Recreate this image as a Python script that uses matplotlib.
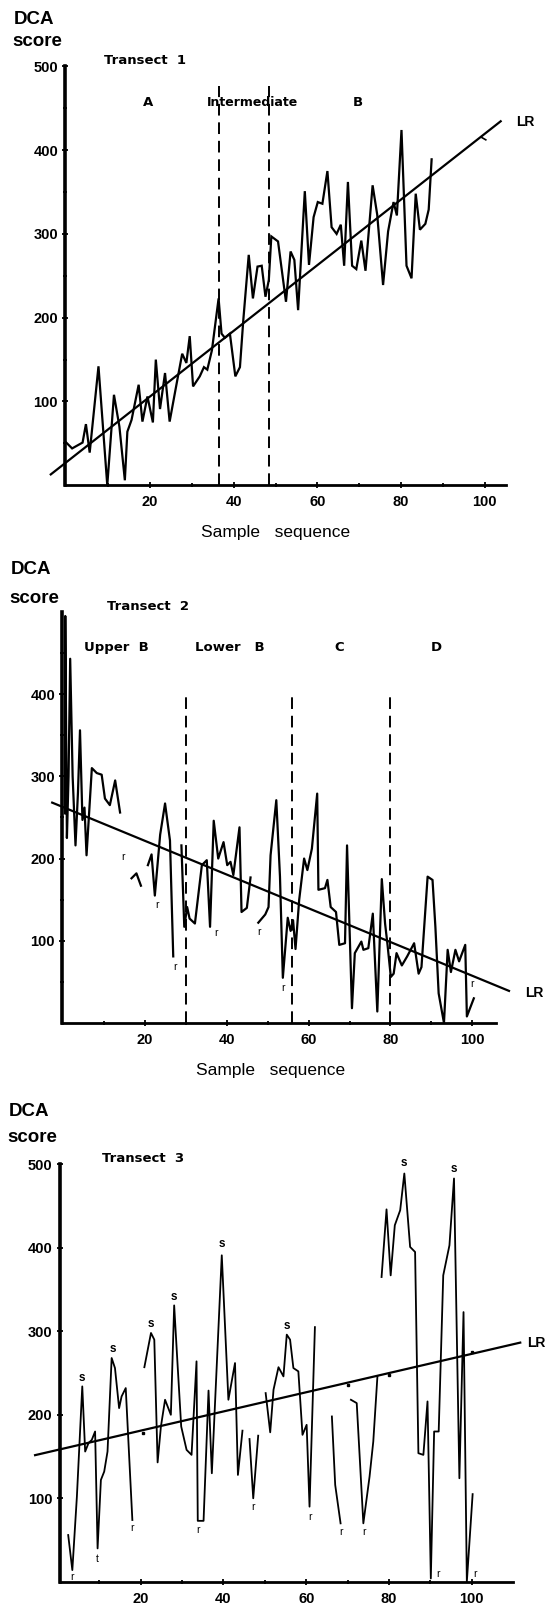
import matplotlib
matplotlib.use("Agg")
import matplotlib.pyplot as plt
from matplotlib.ticker import FixedLocator

plt.rcParams['font.family'] = ['Liberation Sans', 'DejaVu Sans']

# ---------------- data ----------------
# Transect 1
t1_x = [0, 1.4, 3.9, 4.7, 5.6, 7.7, 9.8, 11.4, 12.7, 14.0, 14.6, 15.6, 17.3, 18.2, 19.4,
        20.7, 21.4, 22.4, 23.6, 24.7, 26.1, 27.7, 28.7, 29.5, 30.3, 31.9, 32.9, 33.7, 34.8,
        36.4, 37.1, 37.9, 39.1, 40.4, 41.5, 42.3, 43.6, 44.6, 45.7, 46.7, 47.6, 48.4, 49.0,
        50.6, 52.5, 53.6, 54.5, 55.4, 57.0, 58.0, 59.1, 60.1, 61.2, 62.4, 63.4, 64.6, 65.6,
        66.4, 67.3, 68.3, 69.3, 70.5, 71.5, 73.2, 74.3, 75.7, 76.9, 78.2, 79.0, 80.1, 81.3,
        82.5, 83.5, 84.5, 85.8, 86.6, 87.3]
t1_y = [51, 44, 51, 73, 39, 142, 0, 108, 70, 6, 64, 78, 120, 76, 106,
        75, 150, 91, 134, 76, 114, 157, 146, 178, 118, 130, 141, 138, 161,
        223, 181, 176, 181, 130, 141, 197, 275, 223, 261, 262, 225, 245, 297,
        291, 219, 279, 269, 209, 351, 263, 320, 338, 336, 375, 308, 300, 311,
        262, 362, 262, 258, 292, 256, 358, 323, 239, 303, 338, 322, 424, 262,
        247, 348, 305, 312, 329, 389]
t1_lr = (27.5, 3.92)          # intercept, slope
t1_bounds = [36.5, 48.5]
t1_zones = ["A", "Intermediate", "B"]

# Transect 2 (broken line segments)
t2_segments = [
    ([0.4, 0.5, 0.9, 1.3, 1.7, 2.3, 3.0, 3.6, 4.1, 4.7, 5.2, 5.7, 7.0, 8.2, 9.4, 10.2, 11.4, 12.7, 13.9],
     [255, 495, 225, 300, 443, 300, 216, 280, 356, 247, 262, 204, 310, 304, 302, 273, 265, 295, 256]),
    ([16.7, 17.9, 19.0],
     [176, 182, 167]),
    ([20.7, 21.6, 22.4, 23.7, 24.9, 26.1, 26.9],
     [192, 205, 155, 229, 267, 222, 81]),
    ([28.9, 29.6, 30.3, 30.9, 32.2, 33.9, 35.1, 35.9, 36.8, 37.9, 39.2, 40.1, 40.9, 41.6, 43.1, 43.6, 44.9, 45.8],
     [216, 117, 141, 127, 121, 192, 198, 117, 246, 200, 220, 192, 196, 180, 238, 135, 140, 177]),
    ([47.7, 49.4, 50.2, 50.7, 52.1, 53.0, 53.7, 54.9, 55.6, 56.2, 56.8, 57.7, 58.9, 59.7, 60.8, 62.1,
      62.4, 64.0, 64.6, 65.4, 66.7, 67.5, 68.9, 69.4, 70.6, 71.3, 72.9, 73.4, 74.6, 75.7, 76.8, 77.9,
      78.7, 79.3, 80.1, 80.8, 81.5, 82.8, 84.1, 85.8, 86.9, 87.6, 89.1, 90.3, 91.0, 91.8, 93.1, 94.0,
      94.8, 95.9, 96.8, 98.3, 98.7, 100.4],
     [122, 132, 141, 204, 271, 178, 55, 128, 112, 125, 90, 150, 200, 186, 212, 279,
      162, 164, 174, 141, 135, 95, 97, 216, 18, 85, 99, 89, 91, 133, 14, 175,
      121, 95, 56, 60, 85, 70, 81, 97, 60, 68, 178, 174, 117, 36, 0, 89,
      62, 89, 75, 95, 8, 30]),
]
t2_lr = (262.5, -2.05)
t2_bounds = [30, 56, 80]
t2_zones = ["Upper  B", "Lower   B", "C", "D"]
t2_r_x = [14.7, 22.9, 27.3, 37.3, 47.9, 53.7, 100.0]
t2_r_y = [202, 143, 68, 110, 111, 42, 47]

# Transect 3 (broken line segments)
t3_segments = [
    ([2.5, 3.5, 4.6, 5.9, 6.6, 7.4, 8.2, 9.0, 9.6, 10.4, 11.2, 12.0, 13.0, 13.8, 14.8, 15.4, 16.4, 18.0],
     [56, 14, 102, 234, 156, 166, 170, 180, 40, 122, 132, 156, 268, 256, 208, 222, 232, 74]),
    ([20.9, 22.5, 23.3, 24.1, 24.9, 25.9, 27.3, 28.1, 28.9, 29.8, 31.1, 32.3, 33.5, 33.8, 35.2, 36.4,
      37.2, 39.6, 41.2, 42.8, 43.5, 44.6],
     [257, 298, 290, 143, 186, 218, 200, 331, 262, 186, 158, 152, 264, 73, 73, 229,
      130, 391, 218, 262, 128, 181]),
    ([46.3, 47.2, 48.4],
     [171, 100, 175]),
    ([50.2, 51.3, 52.1, 53.3, 54.5, 55.3, 56.1, 56.9, 58.1, 59.1, 60.1, 60.8, 62.1],
     [226, 179, 230, 257, 246, 296, 290, 256, 252, 176, 188, 90, 305]),
    ([66.2, 67.0, 68.3],
     [198, 116, 70]),
    ([70.8, 72.2, 73.8, 75.3, 76.2, 77.2],
     [218, 214, 70, 126, 168, 246]),
    ([78.2, 79.4, 80.4, 81.4, 82.7, 83.7, 85.1, 86.3, 87.1, 88.3, 89.3, 90.1, 90.9, 92.0, 93.1, 94.6,
      95.7, 97.0, 98.0, 98.8, 100.2],
     [365, 446, 367, 427, 445, 489, 401, 395, 154, 152, 216, 4, 180, 180, 367, 403,
      483, 124, 323, 0, 105]),
]
t3_single_x = [20.5, 70.0, 80.0, 100.0]
t3_single_y = [178, 236, 248, 275]
t3_lr = (158, 1.15)
t3_lab_text = ["r", "s", "t", "s", "r", "s", "s", "r", "s", "r", "s", "r", "r", "r", "s", "s", "r", "r"]
t3_lab_x = [3.5, 5.9, 9.6, 13.2, 18.0, 22.5, 28.1, 33.8, 39.6, 47.1, 55.3, 60.8, 68.3, 73.9, 83.7, 95.7, 91.9, 100.8]
t3_lab_y = [6, 244, 27, 279, 64, 309, 341, 62, 404, 90, 306, 78, 60, 60, 502, 494, 9, 9]

# ---------------- figure ----------------
W, H = 551, 1603
fig = plt.figure(figsize=(W / 100, H / 100), dpi=100)


def px_axes(x0, x1, ytop, ybot):
    return fig.add_axes([x0 / W, 1 - ybot / H, (x1 - x0) / W, (ybot - ytop) / H])


def style(ax, xlim, xend, ymaj, ymin_ticks, xmaj, xmin_ticks, ytop=500):
    ax.set_xlim(*xlim)
    ax.set_ylim(0, 500)
    for s in ["top", "right"]:
        ax.spines[s].set_visible(False)
    ax.spines["left"].set_linewidth(2.6)
    ax.spines["bottom"].set_linewidth(2.0)
    ax.spines["left"].set_bounds(0, ytop)
    ax.spines["bottom"].set_bounds(xlim[0], xend)
    ax.yaxis.set_major_locator(FixedLocator(ymaj))
    ax.yaxis.set_minor_locator(FixedLocator(ymin_ticks))
    ax.xaxis.set_major_locator(FixedLocator(xmaj))
    ax.xaxis.set_minor_locator(FixedLocator(xmin_ticks))
    ax.tick_params(which="both", direction="inout", width=1.3, colors="black")
    ax.tick_params(which="major", length=4)
    ax.tick_params(which="minor", length=3)
    ax.tick_params(axis="y", pad=3)
    ax.tick_params(axis="x", pad=5)
    for lab in ax.get_xticklabels() + ax.get_yticklabels():
        lab.set_fontsize(10.5)
        lab.set_fontweight("bold")
    ax.patch.set_alpha(0)


def fig_text(x, y, s, size, weight="bold", ha="center", family=None):
    kw = {}
    if family:
        kw["family"] = family
    fig.text(x / W, 1 - y / H, s, fontsize=size, fontweight=weight, ha=ha, va="center", **kw)


LAB_FAM = ["DejaVu Sans"]

# ---- Panel 1 ----
ax1 = px_axes(65.0, 505.7, 66.3, 485.3)
style(ax1, (-0.3, 105), 105, [100, 200, 300, 400, 500], [50, 150, 250, 350, 450],
      [20, 40, 60, 80, 100], [10, 30, 50, 70, 90])
ax1.plot(t1_x, t1_y, color="black", lw=1.6, clip_on=False, solid_joinstyle="miter")
lx = [-3.7, 103.8]
ax1.plot(lx, [t1_lr[0] + t1_lr[1] * v for v in lx], color="black", lw=1.6, clip_on=False)
for b in t1_bounds:
    ax1.plot([b, b], [0, 476], color="black", lw=1.4, dashes=(6, 3.5), clip_on=False)
ax1.plot([99.6], [414], marker=(2, 0, 60), ms=5, color="black", mew=1.2, clip_on=False)
ax1.text(107.5, 434, "LR", fontsize=10, fontweight="bold", ha="left", va="center")

fig_text(34, 20, "DCA", 13.5)
fig_text(37, 41, "score", 13.5)
fig_text(145, 60, "Transect  1", 9.5, family=LAB_FAM)
fig_text(147.6, 103, t1_zones[0], 9.5, family=LAB_FAM)
fig_text(252, 103, t1_zones[1], 9, family=LAB_FAM)
fig_text(358, 103, t1_zones[2], 9.5, family=LAB_FAM)
fig_text(276, 532, "Sample   sequence", 12.5, weight="normal")

# ---- Panel 2 ----
ax2 = px_axes(62.0, 495.5, 611.9, 1023.0)
style(ax2, (-0.3, 105.7), 105.7, [100, 200, 300, 400], [50, 150, 250, 350, 450],
      [20, 40, 60, 80, 100], [10, 30, 50, 70, 90], ytop=500)
for sx, sy in t2_segments:
    ax2.plot(sx, sy, color="black", lw=1.6, clip_on=False)
lx = [-2.7, 109.0]
ax2.plot(lx, [t2_lr[0] + t2_lr[1] * v for v in lx], color="black", lw=1.6, clip_on=False)
for b in t2_bounds:
    ax2.plot([b, b], [0, 400], color="black", lw=1.4, dashes=(6, 3.5), clip_on=False)
for rx, ry in zip(t2_r_x, t2_r_y):
    ax2.text(rx, ry, "r", fontsize=7.5, ha="center", va="center")
ax2.text(113.0, 36, "LR", fontsize=10, fontweight="bold", ha="left", va="center")

fig_text(31, 570, "DCA", 13.5)
fig_text(34, 598, "score", 13.5)
fig_text(148, 606, "Transect  2", 9.5, family=LAB_FAM)
fig_text(116, 647, t2_zones[0], 9.5, family=LAB_FAM)
fig_text(230, 647, t2_zones[1], 9.5, family=LAB_FAM)
fig_text(339, 647, t2_zones[2], 9.5, family=LAB_FAM)
fig_text(436, 647, t2_zones[3], 9.5, family=LAB_FAM)
fig_text(271, 1071, "Sample   sequence", 12.5, weight="normal")

# ---- Panel 3 ----
ax3 = px_axes(59.5, 513.2, 1164.3, 1581.8)
style(ax3, (0.4, 110), 110, [100, 200, 300, 400, 500], [],
      [20, 40, 60, 80, 100], [10, 30, 50, 70, 90])
for sx, sy in t3_segments:
    ax3.plot(sx, sy, color="black", lw=1.3, clip_on=False)
ax3.plot(t3_single_x, t3_single_y, ls="none", marker="s", ms=1.8, color="black", clip_on=False)
lx = [-5.5, 111.7]
ax3.plot(lx, [t3_lr[0] + t3_lr[1] * v for v in lx], color="black", lw=1.6, clip_on=False)
for tx, ty, tt in zip(t3_lab_x, t3_lab_y, t3_lab_text):
    if tt == "s":
        ax3.text(tx, ty, tt, fontsize=8.5, fontweight="bold", ha="center", va="center")
    else:
        ax3.text(tx, ty, tt, fontsize=7.5, ha="center", va="center")
ax3.text(113.4, 286, "LR", fontsize=10, fontweight="bold", ha="left", va="center")

fig_text(29, 1112, "DCA", 13.5)
fig_text(32, 1138, "score", 13.5)
fig_text(143, 1159, "Transect  3", 9.5, family=LAB_FAM)

fig.savefig("out.png", dpi=100)
